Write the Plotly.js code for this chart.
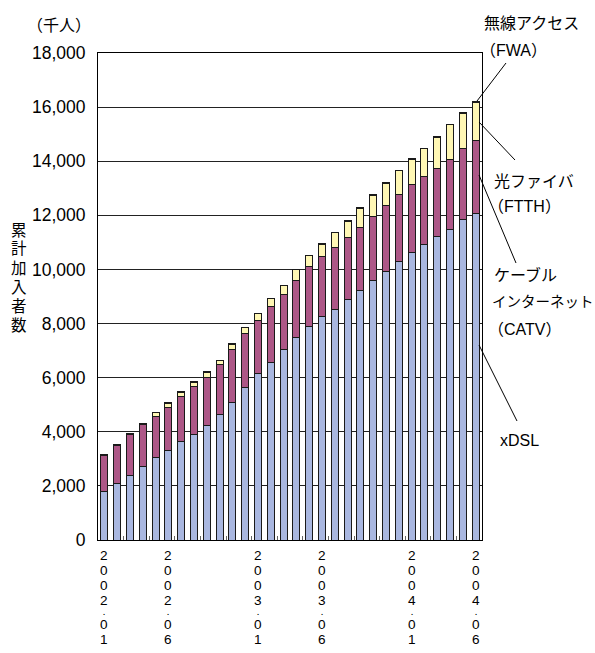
<!DOCTYPE html>
<html>
<head>
<meta charset="utf-8">
<script src="https://cdn.plot.ly/plotly-3.0.1.min.js"></script>
<style>
  html, body { margin: 0; padding: 0; background: #fff; }
  #chart { width: 595px; height: 653px; }
</style>
</head>
<body>
<div id="chart"></div>
<script>
// ---- data (thousand subscribers, cumulative) ----
const months = [
  "2002.01","2002.02","2002.03","2002.04","2002.05","2002.06","2002.07","2002.08","2002.09","2002.10","2002.11","2002.12",
  "2003.01","2003.02","2003.03","2003.04","2003.05","2003.06","2003.07","2003.08","2003.09","2003.10","2003.11","2003.12",
  "2004.01","2004.02","2004.03","2004.04","2004.05","2004.06"
];
const xdsl = [1785,2095,2390,2735,3055,3313,3646,3917,4238,4644,5100,5642,
              6160,6570,7040,7480,7895,8265,8537,8895,9215,9585,9917,10287,
              10615,10930,11210,11481,11830,12058];
const catv = [1356,1404,1502,1527,1515,1590,1664,1749,1786,1848,1946,1995,
              1945,2052,2045,2120,2205,2205,2265,2275,2333,2370,2431,2470,
              2535,2523,2537,2596,2627,2717];
const ftth = [10,15,20,45,130,155,145,165,180,140,180,200,
              250,300,315,380,400,465,555,605,712,794,832,891,
              930,1008,1143,1266,1315,1401];
const fwa  = [15,15,16,17,18,18,19,19,20,20,20,21,
              21,21,21,22,22,22,22,22,22,22,22,22,
              22,23,23,23,23,23];
const tickMonths = ["2002.01","2002.06","2003.01","2003.06","2004.01","2004.06"];
const yTicks = [0,2000,4000,6000,8000,10000,12000,14000,16000,18000];
const yTitle = "累計加入者数";

// ---- geometry helpers (pixel -> paper) ----
const W = 595, H = 653;
const L = 98, R = 482, T = 53, B = 540;
const px = x => (x - L) / (R - L);
const py = y => (B - y) / (B - T);

const FONT = "Liberation Sans, Arial, Noto Sans CJK JP, sans-serif";
const JFONT = "Liberation Sans, Noto Sans CJK JP, sans-serif";
const outline = { color: "#1a1a1a", width: 1 };

function barTrace(name, vals, color) {
  return { type: "bar", name: name, x: months, y: vals,
           marker: { color: color, line: outline }, hoverinfo: "skip" };
}

const data = [
  barTrace("xDSL", xdsl, "#a9b7e0"),
  barTrace("CATV", catv, "#ad5787"),
  barTrace("FTTH", ftth, "#fff7b4"),
  barTrace("FWA", fwa, "#ffffff")
];

const annotations = [];
// x tick labels: stacked characters, placed at the category index
tickMonths.forEach(m => {
  const idx = months.indexOf(m);
  const xp = (idx + 0.5) / months.length;
  const chars = m.split("");
  let y = 555;
  chars.forEach(c => {
    if (c === ".") {
      annotations.push({ xref: "paper", yref: "paper", x: xp, y: py(y - 3.2), text: "<b>.</b>",
        showarrow: false, xanchor: "center", yanchor: "middle", borderpad: 0,
        font: { family: FONT, size: 7.5, color: "#000" } });
      y += 8.5;
    } else {
      annotations.push({ xref: "paper", yref: "paper", x: xp, y: py(y), text: c,
        showarrow: false, xanchor: "center", yanchor: "middle", borderpad: 0,
        font: { family: FONT, size: 13.6, color: "#000" } });
      y += 15.3;
    }
  });
});
// y title, vertical (one character per annotation)
yTitle.split("").forEach((c, k) => {
  annotations.push({ xref: "paper", yref: "paper", x: px(19), y: py(230 + k * 19),
    text: c, showarrow: false, xanchor: "center", yanchor: "middle", borderpad: 0,
    font: { family: JFONT, size: 15.5, color: "#000" } });
});
// unit
annotations.push({ xref: "paper", yref: "paper", x: px(59), y: py(24), text: "（千人）",
  showarrow: false, xanchor: "center", yanchor: "middle",
  font: { family: "Noto Sans CJK JP, sans-serif", size: 16, color: "#000" } });

// series labels on the right
const sideLabels = [
  ["無線アクセス", 482, 23, 16],
  ["（FWA）", 478, 50, 16],
  ["光ファイバ", 492, 181, 16],
  ["（FTTH）", 486, 206, 16],
  ["ケーブル", 492, 275, 16],
  ["インターネット", 490, 302, 14.5],
  ["（CATV）", 486, 329, 16],
  ["xDSL", 498, 440, 16]
];
sideLabels.forEach(([t, x, y, s]) => {
  annotations.push({ xref: "paper", yref: "paper", x: px(x), y: py(y), text: t,
    showarrow: false, xanchor: "left", yanchor: "middle",
    font: { family: JFONT, size: s, color: "#000" } });
});

const leader = (x0, y0, x1, y1) => ({ type: "line", xref: "paper", yref: "paper",
  x0: px(x0), y0: py(y0), x1: px(x1), y1: py(y1), line: { color: "#000", width: 1 } });
const shapes = [
  leader(477, 101, 506, 63),
  leader(479, 122, 515, 160),
  leader(479, 175, 516, 263),
  leader(479, 345, 517, 421)
];

const layout = {
  width: W, height: H,
  margin: { l: L, r: W - R, t: T, b: H - B, pad: 0 },
  paper_bgcolor: "#fff", plot_bgcolor: "#fff",
  barmode: "stack", bargap: 0.46, showlegend: false,
  font: { family: FONT, color: "#000" },
  xaxis: {
    type: "category", range: [-0.5, months.length - 0.5],
    showticklabels: false, ticks: "inside", tickson: "boundaries", ticklen: 4,
    tickcolor: "#666", showgrid: false, zeroline: false,
    showline: true, linecolor: "#000", linewidth: 1, mirror: true, fixedrange: true
  },
  yaxis: {
    range: [0, 18000], tickvals: yTicks, tickformat: ",d",
    tickfont: { family: FONT, size: 17.5, color: "#000" },
    ticks: "", ticklabelstandoff: 8,
    showgrid: true, gridcolor: "#222", gridwidth: 1, zeroline: false,
    showline: true, linecolor: "#000", linewidth: 1, mirror: true, fixedrange: true
  },
  annotations: annotations,
  shapes: shapes
};

Plotly.newPlot("chart", data, layout, { displayModeBar: false, staticPlot: true });
</script>
</body>
</html>
